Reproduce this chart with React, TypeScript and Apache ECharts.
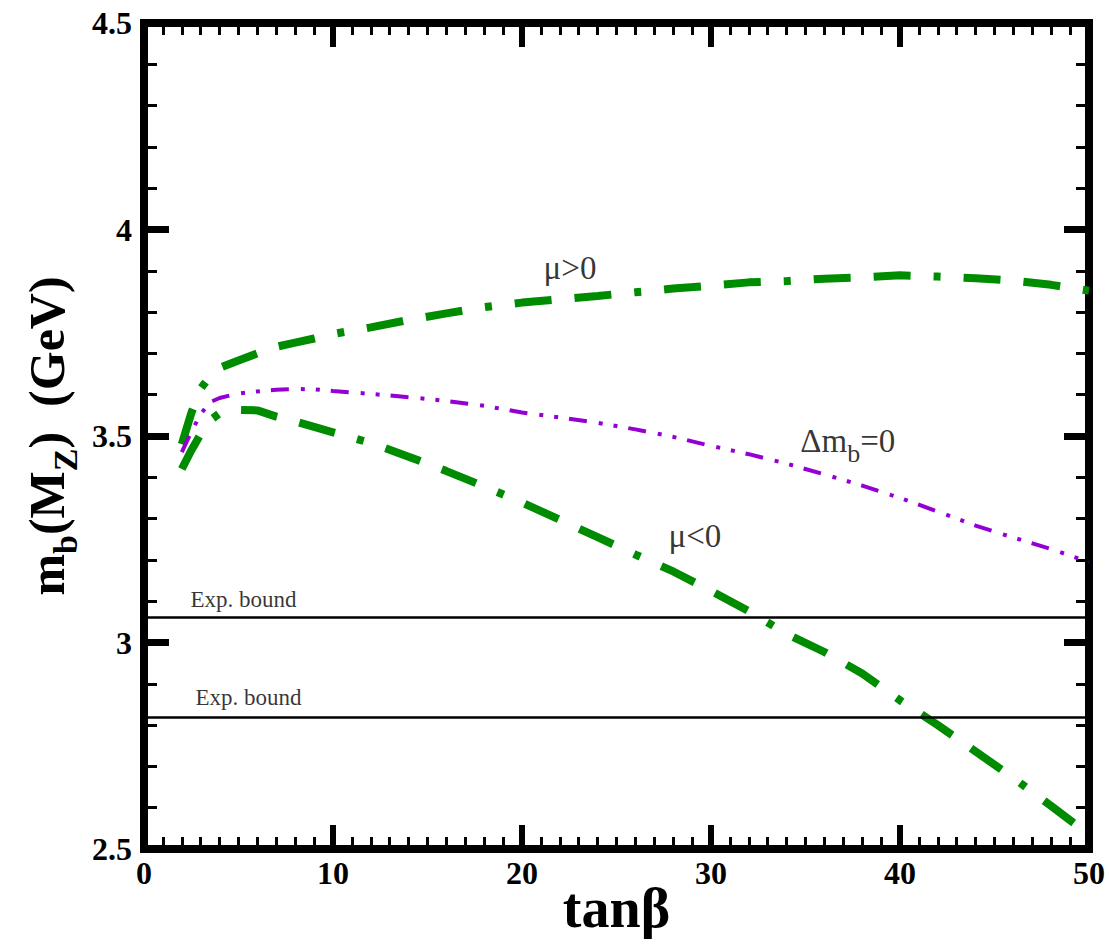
import React, { useEffect, useRef } from "react";
import * as echarts from "echarts";

const tanBeta = [2, 2.5, 3, 3.5, 4, 5, 6, 7, 8, 9, 10, 12, 14, 16, 18, 20, 22, 24, 26, 28, 30, 32, 34, 36, 38, 40, 42, 44, 46, 48, 50];
const muPositive = [3.48, 3.555, 3.615, 3.645, 3.665, 3.683, 3.7, 3.716, 3.726, 3.736, 3.747, 3.763, 3.781, 3.797, 3.812, 3.823, 3.831, 3.839, 3.848, 3.857, 3.864, 3.872, 3.875, 3.881, 3.884, 3.889, 3.886, 3.882, 3.876, 3.866, 3.852];
const muNegative = [3.42, 3.465, 3.505, 3.538, 3.555, 3.563, 3.562, 3.547, 3.535, 3.522, 3.509, 3.483, 3.45, 3.415, 3.378, 3.339, 3.297, 3.255, 3.213, 3.172, 3.125, 3.076, 3.021, 2.977, 2.925, 2.86, 2.8, 2.736, 2.672, 2.604, 2.535];
const deltaZero = [3.461, 3.51, 3.553, 3.582, 3.592, 3.603, 3.608, 3.612, 3.614, 3.613, 3.609, 3.602, 3.594, 3.585, 3.573, 3.557, 3.545, 3.532, 3.516, 3.498, 3.476, 3.456, 3.433, 3.407, 3.38, 3.35, 3.317, 3.283, 3.254, 3.226, 3.195];
const expBounds = [3.06, 2.82];

const xTickStep = 10;
const yTickStep = 0.5;

// annotation texts: [tanβ, value, text]
const curveLabels: [number, number, string][] = [
  [22.54, 3.906, "μ>0"],
  [29.15, 3.259, "μ<0"],
];
const deltaLabel: [number, number, string] = [34.7, 3.488, "Δm{sub|b}=0"];
const boundLabels: [number, number, string][] = [
  [2.43, 3.105, "Exp. bound"],
  [2.7, 2.868, "Exp. bound"],
];

const GREEN = "#008c00";
const PURPLE = "#9400d3";
const SERIF = "'Liberation Serif', 'Times New Roman', serif";

function zip(xs: number[], ys: number[]) {
  return xs.map((x, i) => [x, ys[i]]);
}

export default function App() {
  const ref = useRef<HTMLDivElement>(null);
  useEffect(() => {
    if (!ref.current) return;
    const chart = echarts.init(ref.current, undefined, { renderer: "svg" });
    const axisLineStyle = { color: "#000", width: 8, cap: "square" as const };
    const baseX = (pos: "bottom" | "top", labels: boolean) => ({
      type: "value",
      position: pos,
      min: 0,
      max: 50,
      interval: xTickStep,
      axisLine: { show: true, onZero: false, lineStyle: axisLineStyle },
      axisTick: { show: true, inside: true, length: 24, lineStyle: { color: "#000", width: 6 } },
      minorTick: { show: true, splitNumber: 10, length: 12, lineStyle: { color: "#000", width: 3 } },
      splitLine: { show: false },
      minorSplitLine: { show: false },
      axisLabel: {
        show: labels,
        fontFamily: SERIF,
        fontWeight: "bold",
        fontSize: 32,
        color: "#000",
        margin: 8,
      },
    });
    const baseY = (pos: "left" | "right", labels: boolean) => ({
      type: "value",
      position: pos,
      min: 2.5,
      max: 4.5,
      interval: yTickStep,
      axisLine: { show: true, onZero: false, lineStyle: axisLineStyle },
      axisTick: { show: true, inside: true, length: 25, lineStyle: { color: "#000", width: 7 } },
      minorTick: { show: true, splitNumber: 5, length: 13, lineStyle: { color: "#000", width: 3 } },
      splitLine: { show: false },
      minorSplitLine: { show: false },
      axisLabel: {
        show: labels,
        fontFamily: SERIF,
        fontWeight: "bold",
        fontSize: 32,
        color: "#000",
        margin: 12,
      },
    });

    const xBottom: any = {
      ...baseX("bottom", true),
      name: "tanβ",
      nameLocation: "middle",
      nameGap: 31,
      nameMoveOverlap: false,
      nameTextStyle: { fontFamily: SERIF, fontWeight: "bold", fontSize: 56, color: "#000" },
    };
    const yLeft: any = {
      ...baseY("left", true),
      name: "m{sub|b}(M{sub|Z})  (GeV)",
      nameLocation: "middle",
      nameRotate: 90,
      nameGap: 62,
      nameMoveOverlap: false,
      nameTextStyle: {
        fontFamily: SERIF,
        fontWeight: "bold",
        fontSize: 50,
        color: "#000",
        rich: {
          sub: { fontFamily: SERIF, fontWeight: "bold", fontSize: 34, verticalAlign: "bottom", lineHeight: 71, color: "#000" },
        },
      },
    };

    const textSeries = (pts: [number, number, string][], fontSize: number, position: any, rich?: any) => ({
      type: "scatter",
      xAxisIndex: 0,
      yAxisIndex: 0,
      symbolSize: 1,
      itemStyle: { color: "rgba(0,0,0,0)" },
      silent: true,
      z: 5,
      data: pts.map((p) => ({ value: [p[0], p[1]], name: p[2] })),
      label: {
        show: true,
        position,
        distance: 0,
        formatter: (p: any) => p.name,
        fontFamily: SERIF,
        fontSize,
        color: "#000",
        rich,
      },
    });

    chart.setOption({
      animation: false,
      backgroundColor: "#fff",
      grid: { left: 144, right: 21, top: 23, bottom: 95, containLabel: false, outerBoundsMode: "none" },
      xAxis: [xBottom, baseX("top", false)],
      yAxis: [yLeft, baseY("right", false)],
      series: [
        {
          type: "line",
          name: "μ>0",
          data: zip(tanBeta, muPositive),
          showSymbol: false,
          symbol: "none",
          lineStyle: { color: GREEN, width: 8, type: [37, 23, 7, 23, 37, 23], cap: "butt" },
          z: 3,
        },
        {
          type: "line",
          name: "μ<0",
          data: zip(tanBeta, muNegative),
          showSymbol: false,
          symbol: "none",
          lineStyle: { color: GREEN, width: 8, type: [37, 23, 7, 23, 37, 23], cap: "butt" },
          z: 3,
        },
        {
          type: "line",
          name: "Δm_b=0",
          data: zip(tanBeta, deltaZero),
          showSymbol: false,
          symbol: "none",
          lineStyle: { color: PURPLE, width: 4, type: [18, 12, 4, 11, 4, 11], cap: "butt" },
          z: 3,
          markLine: {
            silent: true,
            symbol: "none",
            label: { show: false },
            lineStyle: { color: "#000", width: 2.5, type: "solid" },
            data: expBounds.map((v) => ({ yAxis: v })),
          },
        },
        textSeries(curveLabels, 33, "inside"),
        textSeries([deltaLabel], 33, "right", {
          sub: { fontFamily: SERIF, fontSize: 26, verticalAlign: "bottom", lineHeight: 52, color: "#000" },
        }),
        textSeries(boundLabels, 23, "right"),
      ],
    });
    return () => chart.dispose();
  }, []);
  return (
    <div
      ref={ref}
      style={{ position: "fixed", left: 0, top: 0, width: 1110, height: 944, background: "#fff" }}
    />
  );
}
